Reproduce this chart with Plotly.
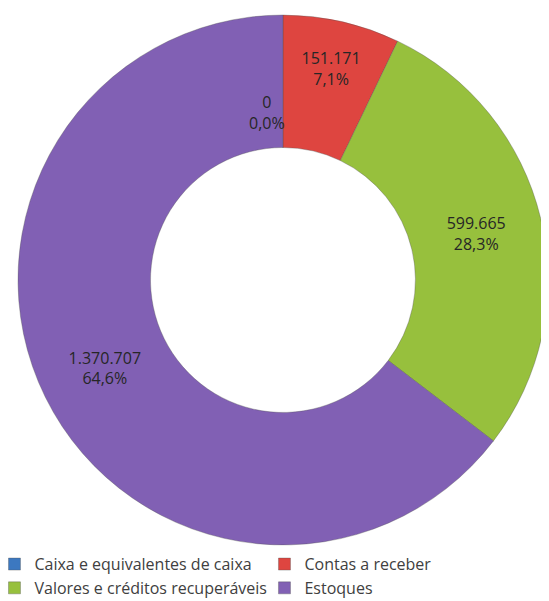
"""Donut chart: composição do ativo circulante."""
import plotly.graph_objects as go

categories = [
    "Caixa e equivalentes de caixa",
    "Contas a receber",
    "Valores e créditos recuperáveis",
    "Estoques",
]
values = [0, 151171, 599665, 1370707]
colors = ["#3C78C0", "#DE4540", "#97C03D", "#8160B4"]

# the zero slice has no room inside, so its label is written as an annotation
templates = ["" if v == 0 else "%{value:,}<br>%{percent:.1%}" for v in values]
zero_label = f"{values[0]}<br>" + f"{0:.1f}%".replace(".", ",")

LABEL_FONT = dict(family="Open Sans", size=16, color="#262626")

# the page body keeps its default 8px margin, so the figure is 8px smaller
fig = go.Figure(
    go.Pie(
        labels=categories,
        values=values,
        hole=0.5,
        sort=False,
        direction="clockwise",
        rotation=0,
        marker=dict(colors=colors, line=dict(color="rgba(80,80,80,0.35)", width=1)),
        texttemplate=templates,
        textposition="inside",
        insidetextorientation="horizontal",
        textfont=LABEL_FONT,
        domain=dict(x=[0.0185, 0.998], y=[0.0, 0.987]),
        showlegend=True,
    )
)

fig.add_annotation(
    text=zero_label,
    x=0.479,
    y=0.849,
    xref="paper",
    yref="paper",
    showarrow=False,
    font=LABEL_FONT,
)

fig.update_layout(
    width=541,
    height=593,
    margin=dict(l=0, r=0, t=0, b=56, autoexpand=False),
    paper_bgcolor="white",
    separators=",.",
    uniformtext=dict(minsize=15, mode="show"),
    legend=dict(
        orientation="h",
        x=-0.025,
        y=-0.004,
        xanchor="left",
        yanchor="top",
        entrywidth=225,
        font=dict(family="Open Sans", size=16, color="#404040"),
        itemwidth=30,
    ),
)

fig.write_html("out.html")
